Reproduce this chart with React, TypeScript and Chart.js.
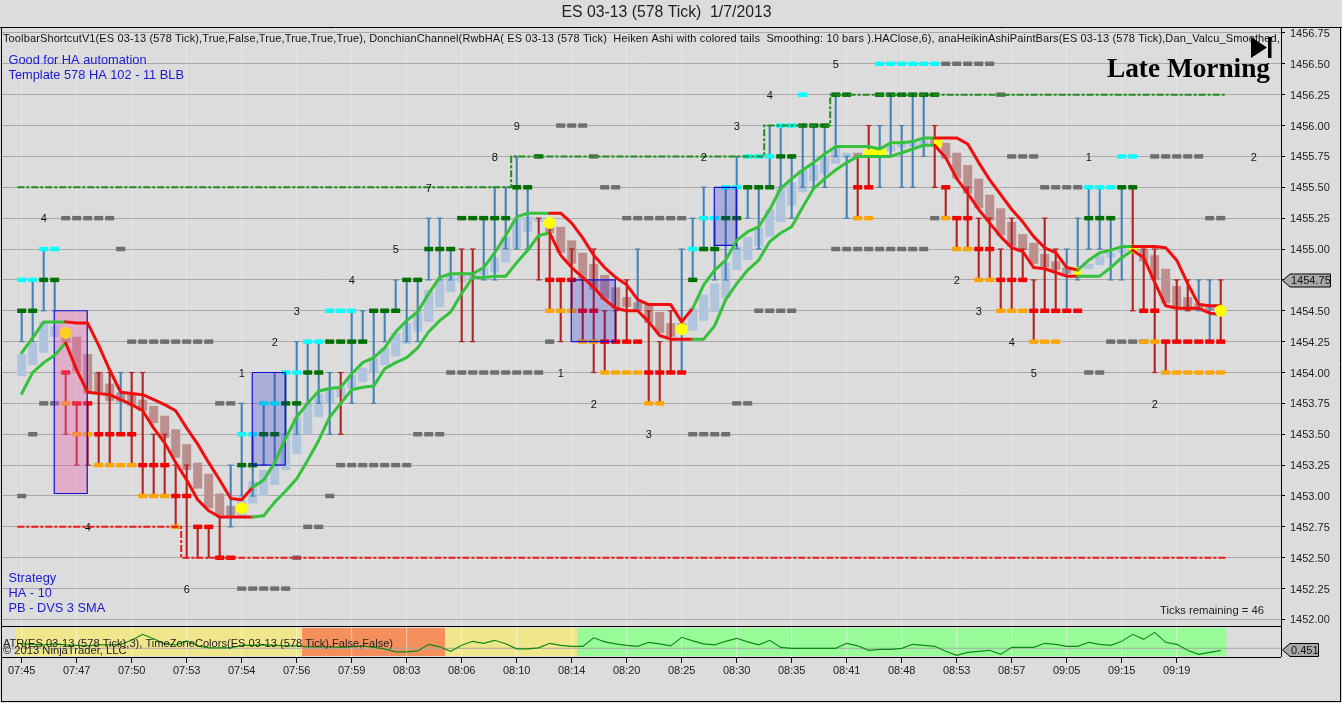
import React, { useEffect, useRef } from "react";
import { Chart, registerables } from "chart.js";

Chart.register(...registerables);

const timeLabels = ["07:45","07:47","07:50","07:53","07:54","07:56","07:59","08:03","08:06","08:10","08:14","08:20","08:25","08:30","08:35","08:41","08:48","08:53","08:57","09:05","09:15","09:19"];
const timeTickBars = [0,5,10,15,20,25,30,35,40,45,50,55,60,65,70,75,80,85,90,95,100,105];
const priceTicks = [1452,1452.25,1452.5,1452.75,1453,1453.25,1453.5,1453.75,1454,1454.25,1454.5,1454.75,1455,1455.25,1455.5,1455.75,1456,1456.25,1456.5,1456.75];

const bodyHigh = [
1454.15,1454.24,1454.41,1454.38,1454.29,1454.29,1454.15,1454.00,1453.91,1453.84,
1453.83,1453.78,1453.73,1453.65,1453.54,1453.42,1453.27,1453.18,1453.02,1452.92,
1452.97,1453.12,1453.21,1453.25,1453.51,1453.64,1453.75,1453.83,1453.86,1453.88,
1453.98,1454.04,1454.12,1454.20,1454.32,1454.40,1454.50,1454.67,1454.75,1454.80,
1454.79,1454.81,1454.85,1454.93,1455.10,1455.25,1455.26,1455.25,1455.18,1455.18,
1455.07,1454.97,1454.88,1454.79,1454.69,1454.61,1454.57,1454.55,1454.49,1454.40,
1454.40,1454.52,1454.63,1454.72,1454.89,1455.02,1455.10,1455.18,1455.32,1455.49,
1455.54,1455.64,1455.68,1455.74,1455.82,1455.78,1455.78,1455.78,1455.80,1455.84,
1455.85,1455.86,1455.88,1455.90,1455.86,1455.78,1455.68,1455.57,1455.44,1455.33,
1455.22,1455.12,1455.05,1454.96,1454.90,1454.85,1454.84,1454.88,1454.95,1454.97,
1455.01,1455.01,1455.00,1454.95,1454.84,1454.70,1454.61,1454.56,1454.53,1454.53];
const bodyLow = [
1453.97,1454.06,1454.16,1454.29,1454.24,1454.01,1453.83,1453.84,1453.77,1453.76,
1453.73,1453.69,1453.59,1453.47,1453.31,1453.21,1453.06,1452.90,1452.84,1452.84,
1452.84,1452.94,1453.00,1453.09,1453.21,1453.34,1453.50,1453.64,1453.75,1453.80,
1453.87,1453.92,1454.00,1454.06,1454.13,1454.23,1454.33,1454.41,1454.53,1454.65,
1454.73,1454.75,1454.79,1454.81,1454.89,1455.01,1455.14,1455.22,1455.13,1454.97,
1454.88,1454.75,1454.67,1454.59,1454.52,1454.53,1454.50,1454.40,1454.32,1454.29,
1454.32,1454.34,1454.42,1454.49,1454.60,1454.83,1454.91,1455.02,1455.10,1455.22,
1455.35,1455.46,1455.55,1455.61,1455.69,1455.74,1455.74,1455.74,1455.75,1455.79,
1455.82,1455.83,1455.84,1455.83,1455.73,1455.57,1455.45,1455.33,1455.23,1455.11,
1455.02,1454.99,1454.88,1454.85,1454.83,1454.80,1454.80,1454.84,1454.87,1454.93,
1454.97,1454.97,1454.90,1454.75,1454.56,1454.52,1454.50,1454.50,1454.50,1454.50];
const bodyUp = [
1,1,1,1,0,0,0,0,0,0,
0,0,0,0,0,0,0,0,0,0,
1,1,1,1,1,1,1,1,1,1,
1,1,1,1,1,1,1,1,1,1,
1,1,1,1,1,1,1,1,0,0,
0,0,0,0,0,0,0,0,0,0,
0,1,1,1,1,1,1,1,1,1,
1,1,1,1,1,1,0,0,1,1,
1,1,1,0,0,0,0,0,0,0,
0,0,0,0,0,0,0,1,1,1,
1,0,0,0,0,0,0,0,0,0];
const wickHigh = [
1454.5,1454.75,1455,1454.75,1454,1453.75,1453.75,1454,1454,1454,
1454,1454,1453.5,1453.5,1453.25,1453.25,1452.75,1452.75,1452.83,1453.25,
1453.75,1453.5,1453.75,1454,1454,1454.25,1454.25,1454.25,1454,1454,
1454.5,1454.5,1454.5,1454.5,1454.75,1454.75,1454.75,1455.25,1455.25,1455,
1455,1455,1455.25,1455.5,1455.5,1455.75,1455.5,1455.25,1455.18,1454.75,
1455,1454.75,1455,1454.5,1454.5,1454.75,1455,1454.5,1454.25,1454.5,
1455,1455.25,1455.5,1455.25,1455.5,1455.75,1455.5,1455.5,1456,1456,
1455.75,1456,1456,1456,1456.25,1455.75,1455.75,1456,1456,1456.25,
1456,1456.25,1456.25,1456,1455.5,1455.25,1455.5,1455.25,1455.25,1455,
1455.25,1455,1454.75,1455.25,1455,1455,1455.25,1455.5,1455.5,1455.25,
1455.5,1455.5,1455,1455,1454.25,1454.75,1454.75,1454.75,1454.75,1454.75];
const wickLow = [
1454.25,1454.25,1454.5,1454.5,1453.5,1453.25,1453.25,1453.25,1453.25,1453.5,
1453.25,1453,1453,1453,1452.75,1452.5,1452.5,1452.5,1452.5,1452.75,
1453,1453,1453.25,1453.25,1453.5,1453.5,1453.75,1453.75,1453.5,1453.5,
1453.75,1454.25,1453.75,1454.25,1454.5,1454.25,1454.25,1454.75,1454.75,1454.75,
1454.25,1454.25,1454.75,1454.75,1455,1455,1455,1454.75,1454.5,1454.25,
1454.5,1454.25,1454,1454,1454.25,1454.25,1454.5,1453.75,1453.75,1454,
1454,1454.75,1455,1454.75,1454.75,1455,1455.25,1455,1455.5,1455.5,
1455.25,1455.5,1455.5,1455.5,1455.75,1455.25,1455.25,1455.5,1455.5,1455.75,
1455.5,1455.5,1455.75,1455.5,1455.25,1455,1455,1454.75,1454.75,1454.5,
1454.5,1454.75,1454.25,1454.5,1454.5,1454.5,1454.75,1455,1455,1454.75,
1454.75,1454.5,1454.5,1454,1454,1454.25,1454.5,1454.5,1454.25,1454.25];
const wickUp = [
1,1,1,1,0,0,0,0,0,1,
0,0,0,0,0,0,0,0,0,1,
1,1,1,1,1,1,1,1,1,0,
1,1,1,1,1,1,1,1,1,1,
0,0,1,1,1,1,1,0,0,0,
0,0,0,0,0,0,1,0,0,0,
1,1,1,1,1,1,1,1,1,1,
1,1,1,1,1,1,0,0,1,1,
1,1,1,0,0,0,0,0,0,0,
0,0,0,0,0,1,1,1,1,1,
1,0,0,0,0,0,0,1,1,0];

const upperBand = [
1454.16,1454.28,1454.41,1454.41,1454.41,1454.40,1454.40,1454.22,1454.02,1453.84,
1453.83,1453.82,1453.78,1453.74,1453.69,1453.55,1453.42,1453.27,1453.13,1452.98,
1452.97,1453.07,1453.13,1453.27,1453.47,1453.64,1453.75,1453.85,1453.87,1453.88,
1453.99,1454.08,1454.12,1454.20,1454.33,1454.42,1454.49,1454.64,1454.77,1454.80,
1454.80,1454.80,1454.85,1454.97,1455.11,1455.26,1455.29,1455.29,1455.29,1455.29,
1455.21,1455.09,1454.95,1454.85,1454.77,1454.71,1454.59,1454.55,1454.55,1454.55,
1454.41,1454.52,1454.71,1454.83,1454.91,1455.07,1455.14,1455.18,1455.32,1455.49,
1455.57,1455.64,1455.70,1455.77,1455.83,1455.83,1455.83,1455.83,1455.81,1455.86,
1455.86,1455.87,1455.90,1455.90,1455.90,1455.90,1455.85,1455.70,1455.56,1455.44,
1455.32,1455.22,1455.10,1455.01,1454.97,1454.85,1454.83,1454.91,1454.97,1454.99,
1455.02,1455.02,1455.02,1455.02,1455.01,1454.91,1454.72,1454.55,1454.54,1454.54];
const lowerBand = [
1453.83,1454.00,1454.08,1454.14,1454.24,1454.02,1453.84,1453.83,1453.82,1453.78,
1453.74,1453.69,1453.55,1453.43,1453.27,1453.13,1452.97,1452.88,1452.83,1452.83,
1452.83,1452.83,1452.84,1452.95,1453.04,1453.14,1453.29,1453.45,1453.64,1453.75,
1453.86,1453.88,1453.89,1454.03,1454.08,1454.12,1454.20,1454.33,1454.42,1454.49,
1454.64,1454.77,1454.77,1454.78,1454.78,1454.89,1454.99,1455.11,1455.13,1454.95,
1454.85,1454.77,1454.69,1454.59,1454.52,1454.50,1454.50,1454.41,1454.30,1454.27,
1454.27,1454.27,1454.27,1454.38,1454.59,1454.72,1454.83,1454.91,1455.06,1455.13,
1455.18,1455.34,1455.49,1455.57,1455.64,1455.70,1455.75,1455.75,1455.75,1455.75,
1455.78,1455.81,1455.84,1455.84,1455.74,1455.57,1455.45,1455.32,1455.21,1455.10,
1455.01,1454.98,1454.85,1454.84,1454.81,1454.78,1454.78,1454.78,1454.78,1454.85,
1454.93,1454.99,1454.93,1454.73,1454.54,1454.52,1454.52,1454.52,1454.48,1454.47];
const trendTurnBars = [4,21,48,61,83,96,101];

const cyanLevels: [number, number[]][] = [
[1456.5,[78,79,80,81,82,83]],[1456.25,[71]],[1456,[69,70]],[1455.75,[66,67,68,100,101]],
[1455.5,[64,65,97,98,99]],[1455.25,[62,63]],[1455,[2,3,61]],[1454.75,[0,1]],
[1454.5,[28,29,30]],[1454.25,[26,27]],[1454,[24,25]],[1453.75,[22,23]],[1453.5,[20,21]]];
const greenLevels: [number, number[]][] = [
[1456.25,[74,75,78,79,80,81,82,83]],[1456,[71,72,73]],[1455.75,[47,69,70]],
[1455.5,[45,46,66,67,68,100,101]],[1455.25,[40,41,42,43,44,64,65,97,98,99]],
[1455,[37,38,39,62,63]],[1454.75,[2,3,35,36,61]],[1454.5,[0,1,32,33,34]],
[1454.25,[28,29,30,31]],[1454,[26,27]],[1453.75,[24,25]],[1453.5,[22,23]],[1453.25,[20,21]]];
const redLevels: [number, number[]][] = [
[1455.5,[76,77,84]],[1455.25,[85,86]],[1455,[87,88]],[1454.75,[48,49,50,89,90,91]],
[1454.5,[51,52,92,93,94,95,96,102,103]],[1454.25,[53,54,55,56,104,105,106,107,108,109]],
[1454,[4,57,58,59,60]],[1453.75,[5,6]],[1453.5,[7,8,9,10]],[1453.25,[11,12,13]],
[1453,[14,15]],[1452.75,[16,17]],[1452.5,[18,19]]];
const orangeLevels: [number, number[]][] = [
[1455.25,[76,77,84]],[1455,[85,86]],[1454.75,[87,88]],[1454.5,[48,49,50,89,90,91]],
[1454.25,[51,52,92,93,94,102,103]],[1454,[53,54,55,56,104,105,106,107,108,109]],
[1453.75,[4,57,58]],[1453.5,[5,6]],[1453.25,[7,8,9,10]],[1453,[11,12,13]],[1452.75,[14]]];
const grayLevels: [number, number[]][] = [
[1456.5,[84,85,86,87,88]],[1456.25,[89]],[1456,[49,50,51]],[1455.75,[52,90,91,92,103,104,105,106,107]],
[1455.5,[53,54,93,94,95,96]],[1455.25,[4,5,6,7,8,55,56,57,58,59,60,83,108,109]],
[1455,[9,74,75,76,77,78,79,80,81,82]],[1454.5,[67,68,69,70]],
[1454.25,[10,11,12,13,14,15,16,17,48,99,100,101,102]],[1454,[39,40,41,42,43,44,45,46,47,97,98]],
[1453.75,[2,3,18,19,65,66]],[1453.5,[1,36,37,38,61,62,63,64]],
[1453.25,[29,30,31,32,33,34,35]],[1453,[0,28]],[1452.75,[26,27]],[1452.5,[25]],[1452.25,[20,21,22,23,24]]];

const donchianHighX = [-0.4,44.5,44.5,67.5,67.5,73.5,73.5,109.5];
const donchianHighY = [1455.5,1455.5,1455.75,1455.75,1456,1456,1456.25,1456.25];
const donchianLowX = [-0.4,14.5,14.5,109.5];
const donchianLowY = [1452.75,1452.75,1452.5,1452.5];

const turnDotBars = [4,20,48,60,109];
const turnDotPrices = [1454.32,1452.9,1455.21,1454.35,1454.5];
const turnDotColors = ["#f8d020","#ffff00","#ffff00","#ffff00","#ffff00"];
const turnPatchBars = [83.3,96,101];
const turnPatchPrices = [1455.86,1454.82,1455.0];
const longPatchBars = [76.6,78.6];
const longPatchPrice = 1455.78;

const boxBarLeft = [2.96,20.96,49.96,62.96];
const boxBarRight = [5.96,23.96,53.96,64.96];
const boxTop = [1454.5,1454,1454.75,1455.5];
const boxBottom = [1453.02,1453.25,1454.25,1455.03];
const boxFill = ["rgba(235,100,170,0.38)","rgba(30,30,210,0.25)","rgba(30,30,210,0.25)","rgba(30,30,210,0.25)"];

const atrValues = [
.58,.57,.56,.58,.56,.55,.54,.56,.56,.57,
.65,.77,.68,.58,.56,.64,.54,.50,.50,.50,
.55,.55,.56,.55,.54,.54,.52,.52,.52,.51,
.52,.54,.51,.48,.42,.42,.44,.57,.52,.43,
.55,.63,.59,.65,.58,.48,.48,.50,.59,.55,
.53,.53,.70,.62,.58,.55,.53,.61,.58,.54,
.71,.64,.58,.56,.63,.69,.62,.56,.65,.51,
.49,.49,.49,.49,.49,.59,.54,.45,.47,.47,
.49,.57,.55,.53,.43,.35,.41,.43,.45,.37,
.51,.51,.51,.59,.57,.53,.53,.61,.57,.55,
.63,.77,.67,.81,.61,.57,.45,.37,.41,.45];
const zoneBarEnds = [25,38,50,109];
const zoneColors = ["#f0e68c","#f58f5c","#f0e68c","#98fb98"];

const swingTexts = ["4","1","2","3","4","5","6","7","8","9","1","2","3","4","2","3","4","5","1","2","2","3","4","5","2"];
const swingBars = [2,20,23,25,30,34,15,37,43,45,49,52,57,6,62,65,68,74,97,112,85,87,90,92,103];
const swingPrices = [1455.25,1454,1454.25,1454.5,1454.75,1455,1452.25,1455.5,1455.75,1456,1454,1453.75,1453.5,1452.75,1455.75,1456,1456.25,1456.5,1455.75,1455.75,1454.75,1454.5,1454.25,1454,1453.75];

const chartTitle = "ES 03-13 (578 Tick)  1/7/2013";
const indicatorLine = "ToolbarShortcutV1(ES 03-13 (578 Tick),True,False,True,True,True,True), DonchianChannel(RwbHA( ES 03-13 (578 Tick)  Heiken Ashi with colored tails  Smoothing: 10 bars ).HAClose,6), anaHeikinAshiPaintBars(ES 03-13 (578 Tick),Dan_Valcu_Smoothed,";
const noteTop = ["Good for HA automation", "Template 578 HA 102 - 11 BLB"];
const noteBottom = ["Strategy", "HA - 10", "PB - DVS 3 SMA"];
const lastPriceText = "1454.75";
const lastAtrText = "0.451";
const sessionText = "Late Morning";
const ticksText = "Ticks remaining = 46";
const atrText = "ATR(ES 03-13 (578 Tick),3), TimeZoneColors(ES 03-13 (578 Tick),False,False)";
const copyrightText = "\u00a9 2013 NinjaTrader, LLC";

const SANS = '"Liberation Sans", Arial, sans-serif';
const bars = bodyHigh.map((_, i) => i);
const flatten = (levels: [number, number[]][]) =>
  levels.flatMap(([price, list]) => list.map((x) => ({ x, y: price })));
const isUpAt = (i: number) => {
  let up = true;
  for (const t of trendTurnBars) if (i >= t) up = !up;
  return up;
};

const overlay = {
  id: "overlay",
  afterDraw(chart: any) {
    const { ctx, scales } = chart;
    const px = scales.x;
    const py = scales.y;
    ctx.save();
    ctx.textBaseline = "middle";
    ctx.strokeStyle = "#000";
    ctx.lineWidth = 1;
    ctx.beginPath();
    ctx.moveTo(0, 27.5); ctx.lineTo(1342, 27.5);
    ctx.moveTo(1.5, 27); ctx.lineTo(1.5, 702);
    ctx.moveTo(1, 701.5); ctx.lineTo(1341, 701.5);
    ctx.moveTo(1340.5, 27); ctx.lineTo(1340.5, 702);
    ctx.moveTo(1281.5, 27); ctx.lineTo(1281.5, 657);
    ctx.moveTo(1, 626.5); ctx.lineTo(1281, 626.5);
    ctx.moveTo(1, 657.5); ctx.lineTo(1281, 657.5);
    ctx.stroke();
    ctx.fillStyle = "#222";
    ctx.font = `15.8px ${SANS}`;
    ctx.textAlign = "center";
    ctx.fillText(chartTitle, 666.5, 13);
    ctx.textAlign = "left";
    ctx.save();
    ctx.beginPath();
    ctx.rect(2, 28, 1278, 20);
    ctx.clip();
    ctx.font = `11px ${SANS}`;
    const natural = ctx.measureText(indicatorLine).width;
    (ctx as any).letterSpacing = `${(1277 - natural) / indicatorLine.length}px`;
    ctx.fillStyle = "#111";
    ctx.fillText(indicatorLine, 3, 38.5);
    (ctx as any).letterSpacing = "0px";
    ctx.restore();
    ctx.fillStyle = "#1a1ad2";
    ctx.font = `12.8px ${SANS}`;
    noteTop.forEach((t, i) => ctx.fillText(t, 8.5, 60.5 + i * 15));
    noteBottom.forEach((t, i) => ctx.fillText(t, 8.5, 578.5 + i * 15));
    ctx.fillStyle = "#000";
    ctx.font = `bold 27.3px "Liberation Serif", serif`;
    ctx.fillText(sessionText, 1107, 70);
    ctx.beginPath();
    ctx.moveTo(1251, 37); ctx.lineTo(1267, 47.5); ctx.lineTo(1251, 58); ctx.closePath();
    ctx.rect(1268, 37, 3.5, 21);
    ctx.fill();
    ctx.font = `11px ${SANS}`;
    ctx.textAlign = "center";
    ctx.fillStyle = "#111";
    swingTexts.forEach((t, i) => {
      ctx.fillText(t, px.getPixelForValue(swingBars[i]), py.getPixelForValue(swingPrices[i]) + 1.2);
    });
    ctx.textAlign = "left";
    ctx.fillStyle = "#222";
    ctx.font = `11.3px ${SANS}`;
    ctx.fillText(ticksText, 1160, 611);
    ctx.font = `11.1px ${SANS}`;
    ctx.fillText(atrText, 3, 644);
    ctx.font = `11.2px ${SANS}`;
    ctx.fillText(copyrightText, 3, 651);
    const flag = (cy: number, right: number, text: string) => {
      ctx.beginPath();
      ctx.moveTo(1282.5, cy);
      ctx.lineTo(1290, cy - 6.5);
      ctx.lineTo(right, cy - 6.5);
      ctx.lineTo(right, cy + 6.5);
      ctx.lineTo(1290, cy + 6.5);
      ctx.closePath();
      ctx.fillStyle = "#a9a9a9";
      ctx.fill();
      ctx.strokeStyle = "#000";
      ctx.stroke();
      ctx.fillStyle = "#111";
      ctx.font = `11px ${SANS}`;
      ctx.fillText(text, 1291, cy + 0.8);
    };
    flag(280.5, 1330.5, lastPriceText);
    flag(650, 1318.5, lastAtrText);
    ctx.restore();
  },
};

const markSet = (label: string, color: string, levels: [number, number[]][], order: number) => ({
  type: "line",
  label,
  data: flatten(levels),
  showLine: false,
  pointStyle: "rect",
  rotation: 0,
  pointRadius: 0,
  pointBorderWidth: 0,
  order,
  xAxisID: "x",
  yAxisID: "y",
  markColor: color,
});

const markBars = (label: string, color: string, levels: [number, number[]][], order: number) => ({
  type: "bar",
  label,
  data: levels.flatMap(([price, list]) => list.map((x) => ({ x, y: [price - 0.018, price + 0.018] }))),
  backgroundColor: color,
  barPercentage: 0.82,
  categoryPercentage: 1,
  grouped: false,
  order,
  xAxisID: "x",
  yAxisID: "y",
});

export default function App() {
  const ref = useRef<HTMLCanvasElement | null>(null);
  useEffect(() => {
    document.body.style.margin = "0";
    document.body.style.background = "#dcdcdc";
    const zoneColorAt = (i: number) => zoneColors[zoneBarEnds.findIndex((e) => i <= e)];
    const y2Min = 0.317;
    const y2Max = 0.917;
    const xMin = -1.79;
    const xMax = 114.48;
    const gridPrice = 0.491;
    const wickCaps = bars.flatMap((i) => [
      { x: i, y: wickHigh[i] },
      { x: i, y: wickLow[i] },
    ]);
    const capColors = bars.flatMap((i) => {
      const c = wickUp[i] ? "#4682b4" : "#b22222";
      return [c, c];
    });
    const chart = new Chart(ref.current as HTMLCanvasElement, {
      type: "bar",
      plugins: [overlay],
      data: {
        datasets: [
          {
            type: "bar", label: "Zones", yAxisID: "y2", xAxisID: "x", order: 90,
            data: bars.map((i) => ({ x: i, y: [y2Min + 0.02, y2Max - 0.02] })),
            backgroundColor: bars.map(zoneColorAt),
            barPercentage: 1.03, categoryPercentage: 1, grouped: false,
          },
          {
            type: "bar", label: "Zone ticks", yAxisID: "y2", xAxisID: "x", order: 85,
            data: timeTickBars.map((i) => ({ x: i, y: [y2Min, y2Max] })),
            backgroundColor: "rgba(255,255,255,0.55)",
            barPercentage: 0.09, categoryPercentage: 1, grouped: false,
          },
          {
            type: "line", label: "ATR grid", yAxisID: "y2", xAxisID: "x", order: 84,
            data: [{ x: xMin, y: gridPrice }, { x: xMax, y: gridPrice }],
            borderColor: "#a9a9a9", borderWidth: 1, pointRadius: 0,
          },
          {
            type: "line", label: "ATR", yAxisID: "y2", xAxisID: "x", order: 80,
            data: bars.map((i) => ({ x: i, y: atrValues[i] })),
            borderColor: "#0c8a14", borderWidth: 1.1, pointRadius: 0, tension: 0,
          },
          {
            type: "bar", label: "HA body", yAxisID: "y", xAxisID: "x", order: 70,
            data: bars.map((i) => ({ x: i, y: [bodyLow[i], bodyHigh[i]] })),
            backgroundColor: bars.map((i) => (bodyUp[i] ? "#b0c4de" : "#bc8f8f")),
            barPercentage: 0.82, categoryPercentage: 1, grouped: false,
          },
          {
            type: "bar", label: "Wick", yAxisID: "y", xAxisID: "x", order: 60,
            data: bars.map((i) => ({ x: i, y: [wickLow[i], wickHigh[i]] })),
            backgroundColor: bars.map((i) => (wickUp[i] ? "#4682b4" : "#b22222")),
            barPercentage: 0.19, categoryPercentage: 1, grouped: false,
          },
          {
            type: "line", label: "Wick caps", yAxisID: "y", xAxisID: "x", order: 55,
            data: wickCaps, showLine: false, pointStyle: "line",
            pointRadius: 2.8, pointBorderWidth: 1.2, pointBorderColor: capColors,
          },
          markBars("Gray marks", "#6e6e6e", grayLevels, 50),
          markBars("Orange marks", "#ffa500", orangeLevels, 49),
          markBars("Red marks", "#f40000", redLevels, 48),
          markBars("Green marks", "#006e00", greenLevels, 47),
          markBars("Cyan marks", "#00ffff", cyanLevels, 46),
          {
            type: "line", label: "Donchian high", yAxisID: "y", xAxisID: "x", order: 40,
            data: donchianHighX.map((x, i) => ({ x, y: donchianHighY[i] })),
            borderColor: "#228b22", borderWidth: 2, borderDash: [7, 2, 3, 2], pointRadius: 0,
          },
          {
            type: "line", label: "Donchian low", yAxisID: "y", xAxisID: "x", order: 39,
            data: donchianLowX.map((x, i) => ({ x, y: donchianLowY[i] })),
            borderColor: "#f01818", borderWidth: 2, borderDash: [7, 2, 3, 2], pointRadius: 0,
          },
          ...boxTop.map((top, b) => ({
            type: "line", label: `Box ${b + 1}`, yAxisID: "y", xAxisID: "x", order: 30,
            data: [
              { x: boxBarLeft[b], y: top },
              { x: boxBarRight[b], y: top },
              { x: boxBarRight[b], y: boxBottom[b] },
              { x: boxBarLeft[b], y: boxBottom[b] },
              { x: boxBarLeft[b], y: top },
            ],
            borderColor: "#1010d0", borderWidth: 1.2, backgroundColor: boxFill[b],
            fill: "shape", pointRadius: 0, tension: 0,
          })),
          {
            type: "line", label: "Turn patch", yAxisID: "y", xAxisID: "x", order: 25,
            data: turnPatchBars.map((x, i) => ({ x, y: turnPatchPrices[i] })),
            showLine: false, pointStyle: "rect", pointRadius: 6, pointBackgroundColor: "#ffff00", pointBorderWidth: 0,
          },
          {
            type: "line", label: "Long patch", yAxisID: "y", xAxisID: "x", order: 24,
            data: longPatchBars.map((x) => ({ x, y: longPatchPrice })),
            borderColor: "#ffff00", borderWidth: 7, pointRadius: 0,
          },
          ...[["Upper band", upperBand], ["Lower band", lowerBand]].map(([label, values]: any, k) => ({
            type: "line", label, yAxisID: "y", xAxisID: "x", order: 20 - k,
            data: bars.map((i) => ({ x: i, y: values[i] })),
            borderColor: "#36c13c", borderWidth: 3, pointRadius: 0, tension: 0,
            borderJoinStyle: "round", borderCapStyle: "round",
            segment: { borderColor: (c: any) => (isUpAt(c.p0DataIndex) ? "#36c13c" : "#f00d0d") },
          })),
          {
            type: "line", label: "Turn dots", yAxisID: "y", xAxisID: "x", order: 10,
            data: turnDotBars.map((x, i) => ({ x, y: turnDotPrices[i] })),
            showLine: false, pointStyle: "circle", pointRadius: 6, pointBorderWidth: 0,
            pointBackgroundColor: turnDotColors,
          },
        ] as any,
      },
      options: {
        animation: false,
        responsive: false,
        devicePixelRatio: 1,
        layout: { autoPadding: false, padding: { top: 27, left: 2, right: 0, bottom: 0 } },
        plugins: { legend: { display: false }, tooltip: { enabled: false }, title: { display: false } },
        elements: { line: { borderCapStyle: "butt" } },
        scales: {
          x: {
            type: "linear",
            min: xMin,
            max: xMax,
            offset: false,
            afterBuildTicks: (a: any) => { a.ticks = timeTickBars.map((value) => ({ value })); },
            afterFit: (a: any) => { a.height = 46; a.paddingLeft = 0; a.paddingRight = 0; },
            grid: { color: "#e6e6e6", tickColor: "#000", tickLength: 6, drawOnChartArea: true, offset: false },
            border: { display: false },
            ticks: {
              callback: (_v: any, i: number) => timeLabels[i],
              maxRotation: 0, autoSkip: false, padding: 1,
              color: "#222", font: { family: "Liberation Sans", size: 11 },
            },
          },
          y: {
            type: "linear",
            position: "right",
            stack: "panels",
            stackWeight: 600,
            min: 1451.939,
            max: 1456.798,
            afterBuildTicks: (a: any) => { a.ticks = priceTicks.map((value) => ({ value })); },
            afterFit: (a: any) => { a.width = 61; a.paddingTop = 0; a.paddingBottom = 0; },
            grid: { color: "#a9a9a9", tickColor: "#000", tickLength: 4 },
            border: { display: false },
            ticks: {
              callback: (v: any) => Number(v).toFixed(2),
              autoSkip: false, padding: 5, labelOffset: 1,
              color: "#222", font: { family: "Liberation Sans", size: 11 },
            },
          },
          y2: {
            type: "linear",
            position: "right",
            stack: "panels",
            stackWeight: 30,
            min: y2Min,
            max: y2Max,
            afterFit: (a: any) => { a.width = 61; },
            grid: { display: false },
            border: { display: false },
            ticks: { display: false },
          },
        },
      } as any,
    });
    return () => chart.destroy();
  }, []);
  return <canvas ref={ref} width={1342} height={703} style={{ display: "block" }} />;
}
